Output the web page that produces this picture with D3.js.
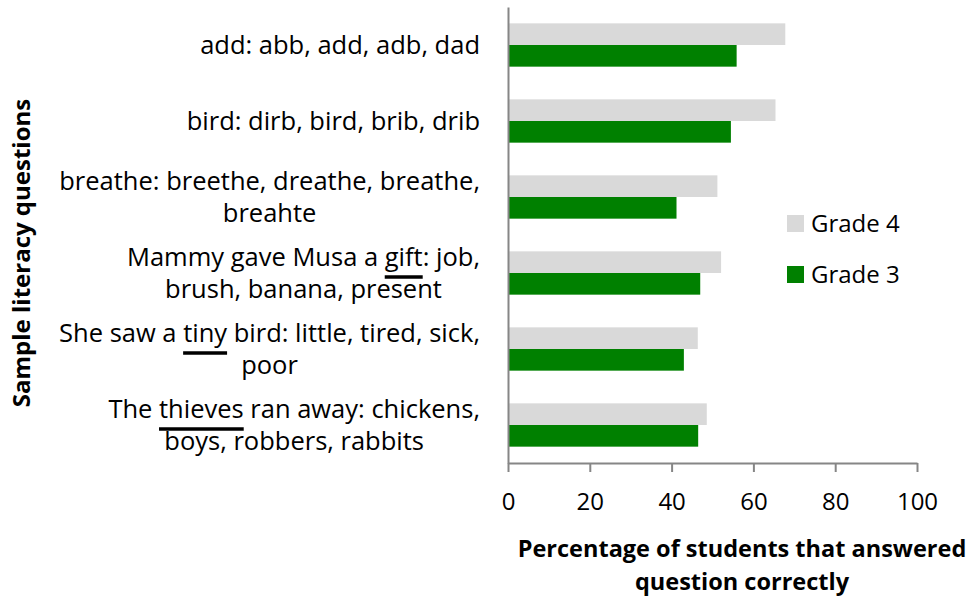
<!DOCTYPE html>
<html>
<head>
<meta charset="utf-8">
<script src="https://cdn.jsdelivr.net/npm/d3@7"></script>
<style>
    body{margin:0;background:#fff;}
    svg{display:block;}
</style>
</head>
<body>
<div id="chart"></div>
<script>
    // question labels, already split the way the picture wraps them
    var categories = [
        ["add: abb, add, adb, dad"],
        ["bird: dirb, bird, brib, drib"],
        ["breathe: breethe, dreathe, breathe,", "breahte"],
        ["Mammy gave Musa a gift: job,", "brush, banana, present"],
        ["She saw a tiny bird: little, tired, sick,", "poor"],
        ["The thieves ran away: chickens,", "boys, robbers, rabbits"]
    ];
    var underlined = ["", "", "", "gift", "tiny", "thieves"];
    var seriesNames = ["Grade 4", "Grade 3"];
    var grade4 = [67.8, 65.4, 51.2, 52.1, 46.4, 48.6];
    var grade3 = [55.9, 54.5, 41.2, 47.0, 43.0, 46.5];
    var xTicks = [0, 20, 40, 60, 80, 100];
    var xTitle = ["Percentage of students that answered", "question correctly"];

    var colors = {"Grade 4":"#d9d9d9", "Grade 3":"#008000"};
    var axis_color = "#868686";
    var font = "'Open Sans', 'Noto Sans', sans-serif";
    var fontsize = 24;
    var labelsize = 25.5;
    var titlesize = 23.5;

    var width = 977, height = 609;
    var plot = {left:508, right:917, top:7, bottom:463};
    var label_right = 480;

    var svg = d3.select("#chart").append("svg")
        .attr("width", width)
        .attr("height", height);

    var keys = categories.map(function(d, i){ return "q" + i; });
    var values = {"Grade 4":grade4, "Grade 3":grade3};

    var x = d3.scaleLinear().domain([0, 100]).range([plot.left, plot.right]);
    var y = d3.scaleBand().domain(keys).range([plot.top, plot.bottom])
        .paddingInner(0.43).paddingOuter(0.215);
    var ySub = d3.scaleBand().domain(seriesNames).range([0, y.bandwidth()]);

    // bars
    var rows = svg.append("g").attr("class", "bars").selectAll("g")
        .data(keys)
        .enter().append("g")
        .attr("transform", function(d){ return "translate(0," + y(d) + ")"; });

    rows.selectAll("rect")
        .data(function(d, i){
            return seriesNames.map(function(s){ return {series:s, value:values[s][i]}; });
        })
        .enter().append("rect")
        .attr("x", x(0))
        .attr("y", function(d){ return ySub(d.series); })
        .attr("width", function(d){ return x(d.value) - x(0); })
        .attr("height", ySub.bandwidth())
        .attr("fill", function(d){ return colors[d.series]; });

    // x axis
    var xAxis = svg.append("g")
        .attr("transform", "translate(0," + plot.bottom + ")")
        .call(d3.axisBottom(x).tickValues(xTicks).tickSize(9).tickSizeOuter(0));
    xAxis.select(".domain").attr("stroke", axis_color).attr("stroke-width", 2);
    xAxis.selectAll(".tick line").attr("stroke", axis_color).attr("stroke-width", 2);
    xAxis.selectAll(".tick text")
        .attr("y", 47).attr("dy", 0)
        .attr("fill", "#000")
        .attr("font-family", font)
        .attr("font-size", fontsize + "px");

    // y axis (line only, labels drawn by hand for the wrapping)
    var yAxis = svg.append("g")
        .attr("transform", "translate(" + plot.left + ",0)")
        .call(d3.axisLeft(y).tickSize(0).tickFormat(""));
    yAxis.select(".domain").attr("stroke", axis_color).attr("stroke-width", 2);

    // category labels: one text per question, a tspan per line
    var lineHeight = 32;
    var labels = svg.append("g").attr("class", "category-labels");
    categories.forEach(function(lines, i){
        var cy = y(keys[i]) + y.bandwidth() / 2;
        var first = cy + 9 - (lines.length - 1) * lineHeight / 2;
        var firstWidth = 0;
        var text = labels.append("text")
            .attr("font-family", font)
            .attr("font-size", labelsize + "px")
            .attr("fill", "#000");
        lines.forEach(function(line, j){
            var t = text.append("tspan")
                .text(line)
                .attr("y", first + j * lineHeight);
            if(j == 0){
                t.attr("x", label_right).attr("text-anchor", "end");
                firstWidth = t.node().getComputedTextLength();
            }else{
                t.attr("x", label_right - firstWidth / 2).attr("text-anchor", "middle");
            }
        });
        var word = underlined[i];
        if(!word) return;
        text.selectAll("tspan").each(function(line, j){
            var s = lines[j];
            var idx = s.indexOf(word);
            if(idx < 0) return;
            var before = 0;
            for(var k = 0; k < j; k++) before += lines[k].length;
            var x0 = text.node().getStartPositionOfChar(before + idx).x;
            var x1 = text.node().getEndPositionOfChar(before + idx + word.length - 1).x;
            labels.append("line")
                .attr("x1", x0).attr("x2", x1)
                .attr("y1", first + j * lineHeight + 11)
                .attr("y2", first + j * lineHeight + 11)
                .attr("stroke", "#000")
                .attr("stroke-width", 3.5);
        });
    });

    // legend
    var legend = svg.append("g").attr("class", "legend").selectAll("g")
        .data(seriesNames)
        .enter().append("g")
        .attr("transform", function(d, i){ return "translate(787," + (215 + i * 51) + ")"; });
    legend.append("rect")
        .attr("width", 17).attr("height", 17)
        .attr("fill", function(d){ return colors[d]; });
    legend.append("text")
        .text(function(d){ return d; })
        .attr("x", 24).attr("y", 17)
        .attr("font-family", font)
        .attr("font-size", fontsize + "px");

    // axis titles
    svg.append("text")
        .attr("transform", "translate(30,253) rotate(-90)")
        .attr("text-anchor", "middle")
        .attr("font-family", font)
        .attr("font-weight", "bold")
        .attr("font-size", "24px")
        .text("Sample literacy questions");

    svg.append("text")
        .attr("text-anchor", "middle")
        .attr("font-family", font)
        .attr("font-weight", "bold")
        .attr("font-size", titlesize + "px")
        .selectAll("tspan")
        .data(xTitle)
        .enter().append("tspan")
        .attr("x", 742)
        .attr("y", function(d, i){ return 557 + i * 33; })
        .text(function(d){ return d; });
</script>
</body>
</html>
